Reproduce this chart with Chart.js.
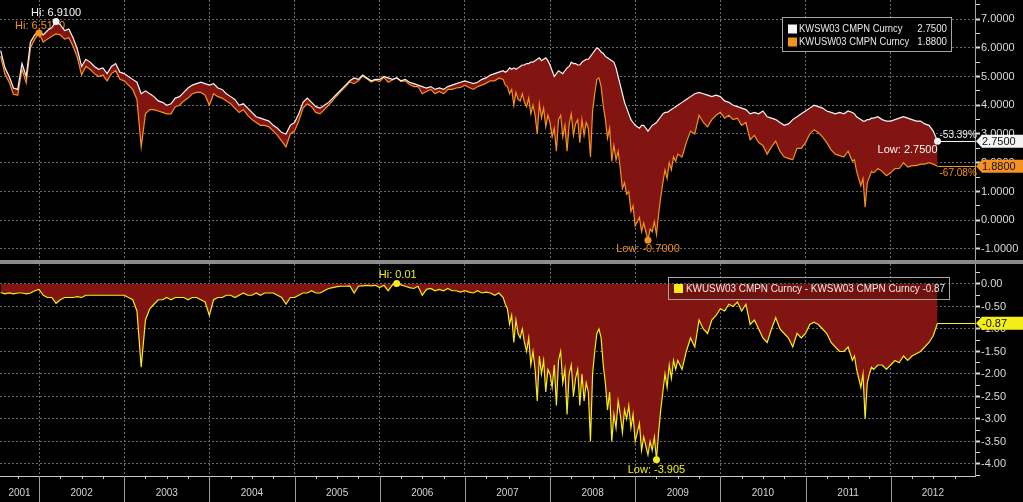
<!DOCTYPE html>
<html><head><meta charset="utf-8"><title>KWSW03 vs KWUSW03</title>
<script src="https://cdn.jsdelivr.net/npm/chart.js@4.4.1/dist/chart.umd.min.js"></script>
<style>
html,body{margin:0;padding:0;background:#000;overflow:hidden}
body{width:1023px;height:502px;position:relative}
canvas{position:absolute;left:0;display:block}
#c1{top:0}
#sep{position:absolute;left:0;top:260px;width:1023px;height:4px;background:#8c8c8c}
#c2{top:264px}
</style></head><body>
<canvas id="c1" width="1023" height="260"></canvas>
<div id="sep"></div>
<canvas id="c2" width="1023" height="238"></canvas>
<script>
// ---------------- DATA ----------------
const dates = [
2001.55,2001.60,2001.65,2001.70,2001.75,2001.80,2001.85,2001.90,2001.95,
2002.00,2002.05,2002.10,2002.15,2002.20,2002.25,2002.30,2002.35,2002.40,2002.45,2002.50,2002.55,2002.60,2002.65,2002.70,2002.75,2002.80,2002.85,2002.90,2002.95,
2003.00,2003.05,2003.10,2003.15,2003.20,2003.25,2003.30,2003.35,2003.40,2003.45,2003.50,2003.55,2003.60,2003.65,2003.70,2003.75,2003.80,2003.85,2003.90,2003.95,
2004.00,2004.05,2004.10,2004.15,2004.20,2004.25,2004.30,2004.35,2004.40,2004.45,2004.50,2004.55,2004.60,2004.65,2004.70,2004.75,2004.80,2004.85,2004.90,2004.95,
2005.00,2005.05,2005.10,2005.15,2005.20,2005.25,2005.30,2005.35,2005.40,2005.45,2005.50,2005.55,2005.60,2005.65,2005.70,2005.75,2005.80,2005.85,2005.90,2005.95,
2006.00,2006.05,2006.10,2006.15,2006.20,2006.25,2006.30,2006.35,2006.40,2006.45,2006.50,2006.55,2006.60,2006.65,2006.70,2006.75,2006.80,2006.85,2006.90,2006.95,
2007.00,2007.05,2007.10,2007.15,2007.20,2007.25,2007.30,2007.35,2007.40,2007.45,
2007.475,2007.500,2007.525,2007.550,2007.575,2007.600,2007.625,2007.650,2007.675,2007.700,2007.725,2007.750,2007.775,2007.800,2007.825,2007.850,2007.875,2007.900,2007.925,2007.950,2007.975,
2008.000,2008.025,2008.050,2008.075,2008.100,2008.125,2008.150,2008.175,2008.200,2008.225,2008.250,2008.275,2008.300,2008.325,2008.350,2008.375,2008.400,2008.425,2008.450,2008.475,
2008.500,2008.525,2008.550,2008.575,2008.600,2008.625,2008.650,2008.675,2008.700,2008.725,2008.750,2008.775,2008.800,2008.825,2008.850,2008.875,2008.900,2008.925,2008.950,2008.975,
2009.000,2009.025,2009.050,2009.075,2009.100,2009.125,2009.150,2009.175,2009.200,2009.225,2009.250,2009.275,2009.300,2009.325,2009.350,2009.375,2009.400,2009.425,2009.450,2009.475,2009.500,
2009.55,2009.60,2009.65,2009.70,2009.75,2009.80,2009.85,2009.90,2009.95,
2010.00,2010.05,2010.10,2010.15,2010.20,2010.25,2010.30,2010.35,2010.40,2010.45,2010.50,2010.55,2010.60,2010.65,2010.70,2010.75,2010.80,2010.85,2010.90,2010.95,
2011.00,2011.05,2011.10,2011.15,2011.20,2011.25,2011.30,2011.35,2011.40,2011.45,2011.50,
2011.550,2011.575,2011.600,2011.625,2011.650,2011.675,2011.700,2011.725,2011.750,2011.775,2011.800,
2011.85,2011.90,2011.95,
2012.00,2012.05,2012.10,2012.15,2012.20,2012.25,2012.30,2012.35,2012.40,2012.45,2012.50,2012.55
];
// KWSW03 CMPN Curncy (white)
const kwsw = [
5.9,5.3,5.0,4.6,4.55,5.45,5.0,6.2,6.45,
6.6,6.45,6.6,6.7,6.91,6.8,6.6,6.65,6.35,5.95,5.35,5.6,5.5,5.35,5.25,5.3,5.1,5.35,5.45,5.15,
5.1,5.0,4.9,4.8,4.4,4.5,4.4,4.3,4.15,4.1,4.0,4.05,4.25,4.3,4.45,4.6,4.7,4.75,4.8,4.75,
4.7,4.75,4.6,4.55,4.4,4.3,4.2,4.0,4.05,3.9,3.75,3.6,3.55,3.5,3.45,3.3,3.2,3.05,3.0,3.3,
3.4,3.7,4.1,4.25,4.1,3.95,3.9,4.0,4.1,4.25,4.4,4.55,4.7,4.85,4.95,4.9,5.05,4.95,4.85,4.9,
4.9,5.0,4.95,4.9,4.95,4.85,4.9,4.8,4.75,4.7,4.65,4.6,4.65,4.55,4.6,4.55,4.65,4.7,4.75,4.8,
4.85,4.8,4.75,4.8,4.9,4.95,5.05,5.1,5.15,5.2,
5.15,5.2,5.3,5.25,5.3,5.25,5.3,5.35,5.4,5.4,5.45,5.45,5.5,5.5,5.55,5.6,5.65,5.55,5.6,5.65,5.55,
5.4,5.2,5.0,5.1,5.2,5.15,5.1,5.2,5.3,5.35,5.5,5.45,5.45,5.4,5.4,5.5,5.55,5.6,5.6,5.7,
5.8,5.9,6.0,5.95,5.85,5.8,5.7,5.65,5.6,5.55,5.5,5.3,5.0,4.7,4.4,4.1,3.9,3.7,3.5,3.4,
3.3,3.25,3.2,3.3,3.3,3.2,3.1,3.2,3.3,3.35,3.4,3.5,3.6,3.7,3.75,3.75,3.8,3.85,3.9,3.95,4.0,
4.1,4.2,4.3,4.4,4.45,4.4,4.35,4.3,4.35,
4.3,4.15,4.1,4.0,3.95,3.9,3.85,3.7,3.75,3.7,3.8,3.6,3.55,3.5,3.4,3.3,3.35,3.5,3.6,3.7,
3.8,3.9,4.0,3.95,3.9,3.8,3.75,3.7,3.75,3.7,3.8,
3.75,3.7,3.6,3.55,3.5,3.45,3.45,3.5,3.5,3.55,3.55,
3.6,3.5,3.45,
3.45,3.5,3.55,3.6,3.55,3.5,3.45,3.45,3.35,3.3,3.1,2.75
];
// KWUSW03 CMPN Curncy (orange)
const kwusw = [
5.71,5.08,4.8,4.38,4.35,5.25,4.78,6.0,6.3,
6.51,6.2,6.3,6.4,6.48,6.45,6.3,6.35,6.05,5.67,5.05,5.35,5.25,5.1,5.0,5.05,4.85,5.1,5.2,4.9,
4.85,4.7,4.55,4.2,2.55,3.7,3.85,3.85,3.8,3.75,3.7,3.7,3.95,4.0,4.15,4.25,4.4,4.45,4.45,4.35,
4.0,4.4,4.3,4.25,4.15,4.05,3.9,3.75,3.85,3.65,3.5,3.4,3.3,3.3,3.25,3.1,2.95,2.75,2.55,3.0,
3.1,3.45,3.9,4.05,3.95,3.75,3.7,3.85,4.0,4.17,4.34,4.5,4.65,4.81,4.75,4.85,5.01,4.92,4.81,4.87,
4.82,4.97,4.8,4.88,4.96,4.83,4.85,4.72,4.65,4.65,4.4,4.48,4.55,4.4,4.48,4.4,4.55,4.55,4.6,4.62,
4.7,4.62,4.55,4.65,4.7,4.77,4.85,4.85,4.95,4.9,
4.7,4.65,4.4,4.55,4.0,4.45,4.2,4.15,4.4,4.1,3.95,4.25,3.7,4.0,3.65,3.0,4.05,3.55,3.9,3.25,3.65,
3.4,2.9,3.2,2.4,3.5,3.65,2.9,3.3,2.4,3.35,3.7,2.95,3.35,3.5,2.7,3.5,2.95,3.4,3.2,2.2,
3.8,4.4,4.9,4.95,4.65,4.0,3.5,2.85,3.2,2.05,2.6,2.1,2.4,1.8,1.1,1.3,0.9,1.0,0.3,0.5,
-0.2,-0.05,0.1,-0.4,-0.1,-0.4,-0.7,-0.3,-0.4,-0.05,-0.5,0.2,0.8,1.3,1.75,1.45,2.0,1.75,2.2,2.05,2.3,
2.2,2.7,3.1,3.0,3.65,3.4,3.25,3.5,3.65,
3.75,3.55,3.65,3.5,3.55,3.3,3.4,2.8,2.95,2.7,2.6,2.3,2.55,2.75,2.4,2.2,2.15,2.1,2.5,2.5,
2.7,3.0,3.15,3.05,2.9,2.7,2.45,2.3,2.25,2.2,2.4,
2.05,2.1,1.7,1.45,1.2,1.45,0.45,1.3,1.5,1.7,1.65,
1.8,1.7,1.55,
1.65,1.8,1.8,2.0,1.85,1.9,1.9,1.95,1.95,2.0,1.95,1.88
];
// KWUSW03 - KWSW03 (yellow)
const spread = [
-0.19,-0.22,-0.2,-0.22,-0.2,-0.2,-0.22,-0.2,-0.15,
-0.12,-0.25,-0.3,-0.3,-0.43,-0.35,-0.3,-0.3,-0.3,-0.28,-0.3,-0.25,-0.25,-0.25,-0.25,-0.25,-0.25,-0.25,-0.25,-0.25,
-0.25,-0.3,-0.35,-0.6,-1.85,-0.8,-0.55,-0.45,-0.35,-0.35,-0.3,-0.35,-0.3,-0.3,-0.3,-0.35,-0.3,-0.3,-0.35,-0.4,
-0.7,-0.35,-0.3,-0.3,-0.25,-0.25,-0.3,-0.25,-0.2,-0.25,-0.25,-0.2,-0.25,-0.2,-0.2,-0.2,-0.25,-0.3,-0.45,-0.3,
-0.3,-0.25,-0.2,-0.2,-0.15,-0.2,-0.2,-0.15,-0.1,-0.08,-0.06,-0.05,-0.05,-0.04,-0.2,-0.05,-0.04,-0.03,-0.04,-0.03,
-0.08,-0.03,-0.15,-0.02,0.01,-0.02,-0.05,-0.08,-0.1,-0.05,-0.25,-0.12,-0.1,-0.15,-0.12,-0.15,-0.1,-0.15,-0.15,-0.18,
-0.15,-0.18,-0.2,-0.15,-0.2,-0.18,-0.2,-0.25,-0.2,-0.3,
-0.45,-0.55,-0.9,-0.7,-1.3,-0.8,-1.1,-1.2,-1.0,-1.3,-1.5,-1.2,-1.8,-1.5,-1.9,-2.6,-1.6,-2.0,-1.7,-2.4,-1.9,
-2.0,-2.3,-1.8,-2.7,-1.7,-1.5,-2.2,-1.9,-2.9,-2.0,-1.8,-2.5,-2.1,-1.9,-2.7,-2.0,-2.6,-2.2,-2.4,-3.5,
-2.0,-1.5,-1.1,-1.0,-1.2,-1.8,-2.2,-2.8,-2.4,-3.5,-2.9,-3.2,-2.6,-2.9,-3.3,-2.8,-3.0,-2.7,-3.2,-2.9,
-3.5,-3.3,-3.1,-3.7,-3.4,-3.6,-3.8,-3.5,-3.7,-3.4,-3.905,-3.3,-2.8,-2.4,-2.0,-2.3,-1.8,-2.1,-1.7,-1.9,-1.7,
-1.9,-1.5,-1.2,-1.4,-0.8,-1.0,-1.1,-0.8,-0.7,
-0.55,-0.6,-0.45,-0.5,-0.4,-0.6,-0.45,-0.9,-0.8,-1.0,-1.2,-1.3,-1.0,-0.75,-1.0,-1.1,-1.2,-1.4,-1.1,-1.2,
-1.1,-0.9,-0.85,-0.9,-1.0,-1.1,-1.3,-1.4,-1.5,-1.5,-1.4,
-1.7,-1.6,-1.9,-2.1,-2.3,-2.0,-3.0,-2.2,-2.0,-1.85,-1.9,
-1.8,-1.8,-1.9,
-1.8,-1.7,-1.75,-1.6,-1.7,-1.6,-1.55,-1.5,-1.4,-1.3,-1.15,-0.87
];
const seriesNames = ['KWSW03 CMPN Curncy', 'KWUSW03 CMPN Curncy'];
const spreadName = 'KWUSW03 CMPN Curncy - KWSW03 CMPN Curncy';
const yearLabels = ['2001','2002','2003','2004','2005','2006','2007','2008','2009','2010','2011','2012'];
const topMajorTicks = [7, 6, 5, 4, 3, 2, 1, 0, -1];
const topMinorTicks = [7.5, 6.5, 5.5, 4.5, 3.5, 2.5, 1.5, 0.5, -0.5];
const botMajorTicks = [0, -0.5, -1, -1.5, -2, -2.5, -3, -3.5, -4];
const botMinorTicks = [0.25, -0.25, -0.75, -1.25, -1.75, -2.25, -2.75, -3.25, -3.75, -4.25];

// ---------------- STYLE ----------------
const FONT = '"Liberation Sans", Arial, Helvetica, sans-serif';
const COL = {white:'#f6f6f6', orange:'#f5911f', yellow:'#f3ee1b', fill:'rgb(130,21,17)',
  grid:'#6c6c6c', axis:'#a8a8a8', tick:'#dadada', text:'#e8e8e8', year:'#d4d4d4'};
const X_MIN = 2001.542, X_MAX = 2012.99;
const TOP_RANGE = [-1.383, 7.661], BOT_RANGE = [-4.267, 0.444];

const yearBounds = yearLabels.slice(1).map(Number);
const yearMids = yearLabels.map(s => { const y = Number(s); return (Math.max(y, X_MIN) + Math.min(y + 1, X_MAX)) / 2; });
const pts = arr => dates.map((d, i) => ({x: d, y: arr[i]}));
const argMax = a => a.indexOf(Math.max(...a));
const argMin = a => a.indexOf(Math.min(...a));
const last = a => a[a.length - 1];

function txt(ctx, s, x, y, color, size, align, sx) {
  ctx.save(); ctx.font = size + 'px ' + FONT; ctx.fillStyle = color;
  ctx.textAlign = align || 'left'; ctx.textBaseline = 'middle';
  ctx.translate(x, y); ctx.scale(sx || 1, 1); ctx.fillText(s, 0, 0); ctx.restore();
}
function dot(ctx, x, y, color) {
  ctx.save(); ctx.fillStyle = color; ctx.beginPath(); ctx.arc(x, y, 3.5, 0, Math.PI * 2); ctx.fill(); ctx.restore();
}
function hline(ctx, x1, x2, y, color) {
  ctx.save(); ctx.strokeStyle = color; ctx.lineWidth = 1; ctx.beginPath();
  const yy = Math.round(y) + 0.5; ctx.moveTo(x1, yy); ctx.lineTo(x2, yy); ctx.stroke(); ctx.restore();
}
function flag(ctx, xl, yc, bg, fg, s, W) {
  ctx.save(); ctx.fillStyle = bg; ctx.beginPath();
  ctx.moveTo(xl + 1, yc); ctx.lineTo(xl + 7, yc - 6.5); ctx.lineTo(W, yc - 6.5);
  ctx.lineTo(W, yc + 6.5); ctx.lineTo(xl + 7, yc + 6.5); ctx.closePath(); ctx.fill(); ctx.restore();
  txt(ctx, s, xl + 7, yc + 0.5, fg, 11, 'left');
}
function box(ctx, L, T, W, H, fill) {
  ctx.save(); ctx.fillStyle = fill; ctx.fillRect(L, T, W, H);
  ctx.strokeStyle = '#a4a4a4'; ctx.lineWidth = 1; ctx.strokeRect(L + 0.5, T + 0.5, W - 1, H - 1); ctx.restore();
}

function xScale(showLabels) {
  return {
    type: 'linear', min: X_MIN, max: X_MAX,
    afterBuildTicks: s => { s.ticks = yearBounds.map(v => ({value: v})).concat(showLabels ? yearMids.map(v => ({value: v})) : []); },
    afterFit: s => { s.height = showLabels ? 26 : 0; s.paddingLeft = 0; s.paddingRight = 0; s.paddingTop = 0; s.paddingBottom = 0; },
    ticks: { display: showLabels, autoSkip: false, maxRotation: 0, minRotation: 0, padding: 11,
      color: COL.year, font: {family: FONT, size: 10},
      callback: v => { const i = yearMids.indexOf(v); return i >= 0 ? yearLabels[i] : ''; } },
    grid: { drawTicks: false, lineWidth: 1,
      color: c => (c.tick && yearBounds.includes(c.tick.value)) ? COL.grid : 'rgba(0,0,0,0)' },
    border: { display: showLabels, color: '#c8c8c8', width: 1, dash: [2, 2] }
  };
}
function yScale(range, major, minor, fmt) {
  const all = major.concat(minor).sort((a, b) => a - b);
  return {
    position: 'right', min: range[0], max: range[1],
    afterBuildTicks: s => { s.ticks = all.map(v => ({value: v})); },
    afterFit: s => { s.width = 48; s.paddingTop = 0; s.paddingBottom = 0; s.paddingLeft = 0; s.paddingRight = 0; },
    ticks: { autoSkip: false, padding: 1, color: COL.tick, font: {family: FONT, size: 11},
      callback: v => major.includes(v) ? fmt(v) : '' },
    grid: { drawTicks: true, tickLength: 5, tickColor: COL.tick, tickBorderDash: [],
      tickWidth: c => (c.tick && major.includes(c.tick.value)) ? 2 : 1,
      color: c => (c.tick && major.includes(c.tick.value)) ? COL.grid : 'rgba(0,0,0,0)' },
    border: { display: true, color: COL.axis, width: 1, dash: [2, 2] }
  };
}
const baseOpts = {
  responsive: false, animation: false, devicePixelRatio: 1, events: [],
  layout: { padding: 0 },
  plugins: { legend: {display: false}, tooltip: {enabled: false} },
  elements: { point: {radius: 0}, line: {tension: 0} }
};

// ---------------- TOP CHART ----------------
const topPlugin = {
  id: 'topAnno',
  beforeDatasetsDraw(chart) {
    const {ctx, scales: {x, y}} = chart;
    const i = argMax(kwusw);
    txt(ctx, 'Hi: ' + kwusw[i].toFixed(4), x.getPixelForValue(dates[i]) - 24, y.getPixelForValue(kwusw[i]) - 7, COL.orange, 11);
  },
  afterDatasetsDraw(chart) {
    const {ctx, scales: {x, y}, chartArea: ca} = chart;
    const px = i => x.getPixelForValue(dates[i]);
    const n = dates.length - 1;
    const wy = y.getPixelForValue(last(kwsw)), oy = y.getPixelForValue(last(kwusw));
    hline(ctx, px(n), ca.right, wy, COL.white);
    hline(ctx, px(n), ca.right, oy, COL.orange);
    let i = argMax(kwsw), X = px(i), Y = y.getPixelForValue(kwsw[i]);
    dot(ctx, X, Y, COL.white); txt(ctx, 'Hi: ' + kwsw[i].toFixed(4), X - 25, Y - 9, COL.white, 11);
    i = argMax(kwusw); dot(ctx, px(i), y.getPixelForValue(kwusw[i]), COL.orange);
    i = argMin(kwusw); X = px(i); Y = y.getPixelForValue(kwusw[i]);
    dot(ctx, X, Y, COL.orange); txt(ctx, 'Low: ' + kwusw[i].toFixed(4), X, Y + 9, COL.orange, 11, 'center');
    i = argMin(kwsw); X = px(i); Y = y.getPixelForValue(kwsw[i]);
    dot(ctx, X, Y, COL.white); txt(ctx, 'Low: ' + kwsw[i].toFixed(4), X, Y + 9, COL.white, 11, 'right');
    const pct = a => ((last(a) - a[0]) / a[0] * 100).toFixed(2) + '%';
    txt(ctx, pct(kwsw), px(n) + 2, wy - 6, COL.white, 10);
    txt(ctx, pct(kwusw), px(n) + 2, oy + 7, COL.orange, 10);
  },
  afterDraw(chart) {
    const {ctx, scales: {y}, chartArea: ca} = chart;
    flag(ctx, ca.right, y.getPixelForValue(last(kwsw)), '#f4f4f4', '#111', last(kwsw).toFixed(4), chart.width);
    flag(ctx, ca.right, y.getPixelForValue(last(kwusw)), COL.orange, '#111', last(kwusw).toFixed(4), chart.width);
    // legend
    const L = ca.right - 193, T = 17;
    box(ctx, L, T, 170, 35, '#000');
    const rows = [[COL.white, seriesNames[0], last(kwsw).toFixed(4)], [COL.orange, seriesNames[1], last(kwusw).toFixed(4)]];
    rows.forEach((r, k) => {
      const cy = T + 12 + k * 13;
      ctx.save(); ctx.fillStyle = r[0]; ctx.fillRect(L + 6, cy - 4.5, 9, 9); ctx.restore();
      txt(ctx, r[1], L + 17, cy, COL.text, 10, 'left', 0.94);
      txt(ctx, r[2], L + 165, cy, COL.text, 10, 'right', 0.97);
    });
  }
};
new Chart(document.getElementById('c1'), {
  type: 'line',
  data: { datasets: [
    { label: seriesNames[0], data: pts(kwsw), borderColor: COL.white, borderWidth: 1.2, fill: false, order: 0 },
    { label: seriesNames[1], data: pts(kwusw), borderColor: COL.orange, borderWidth: 1.2, fill: '-1', backgroundColor: COL.fill, order: 1 }
  ]},
  options: Object.assign({}, baseOpts, {
    parsing: false,
    scales: { x: xScale(false), y: yScale(TOP_RANGE, topMajorTicks, topMinorTicks, v => v.toFixed(4)) }
  }),
  plugins: [topPlugin]
});

// ---------------- BOTTOM CHART ----------------
const botPlugin = {
  id: 'botAnno',
  afterDatasetsDraw(chart) {
    const {ctx, scales: {x, y}, chartArea: ca} = chart;
    const px = i => x.getPixelForValue(dates[i]);
    const n = dates.length - 1;
    const ly = y.getPixelForValue(last(spread));
    hline(ctx, px(n), ca.right, ly, COL.yellow);
    let i = argMax(spread), X = px(i), Y = y.getPixelForValue(spread[i]);
    dot(ctx, X, Y, COL.yellow); txt(ctx, 'Hi: ' + String(spread[i]), X + 1, Y - 9, COL.yellow, 11, 'center');
    i = argMin(spread); X = px(i); Y = y.getPixelForValue(spread[i]);
    dot(ctx, X, Y, COL.yellow); txt(ctx, 'Low: ' + String(spread[i]), X, Y + 10, COL.yellow, 11, 'center');
  },
  afterDraw(chart) {
    const {ctx, scales: {x, y}, chartArea: ca} = chart;
    flag(ctx, ca.right, y.getPixelForValue(last(spread)), COL.yellow, '#111', String(last(spread)), chart.width);
    // legend
    const L = ca.right - 307, T = 13;
    box(ctx, L, T, 282, 23, 'rgba(0,0,0,0.12)');
    ctx.save(); ctx.fillStyle = COL.yellow; ctx.fillRect(L + 6, T + 7, 9, 9); ctx.restore();
    txt(ctx, spreadName + ' ' + String(last(spread)), L + 18, T + 12, COL.text, 10, 'left', 0.99);
    // year separators and quarter ticks below the axis
    ctx.save(); ctx.strokeStyle = '#9c9c9c'; ctx.lineWidth = 1; ctx.beginPath();
    yearBounds.forEach(v => { const p = Math.round(x.getPixelForValue(v)) + 0.5; ctx.moveTo(p, ca.bottom); ctx.lineTo(p, chart.height); });
    ctx.stroke();
    ctx.strokeStyle = '#c8c8c8'; ctx.beginPath();
    for (let yr = Math.floor(X_MIN); yr <= Math.floor(X_MAX); yr++) {
      [0.25, 0.5, 0.75].forEach(q => { const v = yr + q; if (v > X_MIN && v < X_MAX) { const p = Math.round(x.getPixelForValue(v)) + 0.5; ctx.moveTo(p, ca.bottom); ctx.lineTo(p, ca.bottom + 3); } });
    }
    ctx.stroke(); ctx.restore();
  }
};
new Chart(document.getElementById('c2'), {
  type: 'line',
  data: { datasets: [
    { label: spreadName, data: pts(spread), borderColor: COL.yellow, borderWidth: 1.2, fill: 'origin', backgroundColor: COL.fill }
  ]},
  options: Object.assign({}, baseOpts, {
    parsing: false,
    scales: { x: xScale(true), y: yScale(BOT_RANGE, botMajorTicks, botMinorTicks, v => v.toFixed(2)) }
  }),
  plugins: [botPlugin]
});
</script></body></html>
